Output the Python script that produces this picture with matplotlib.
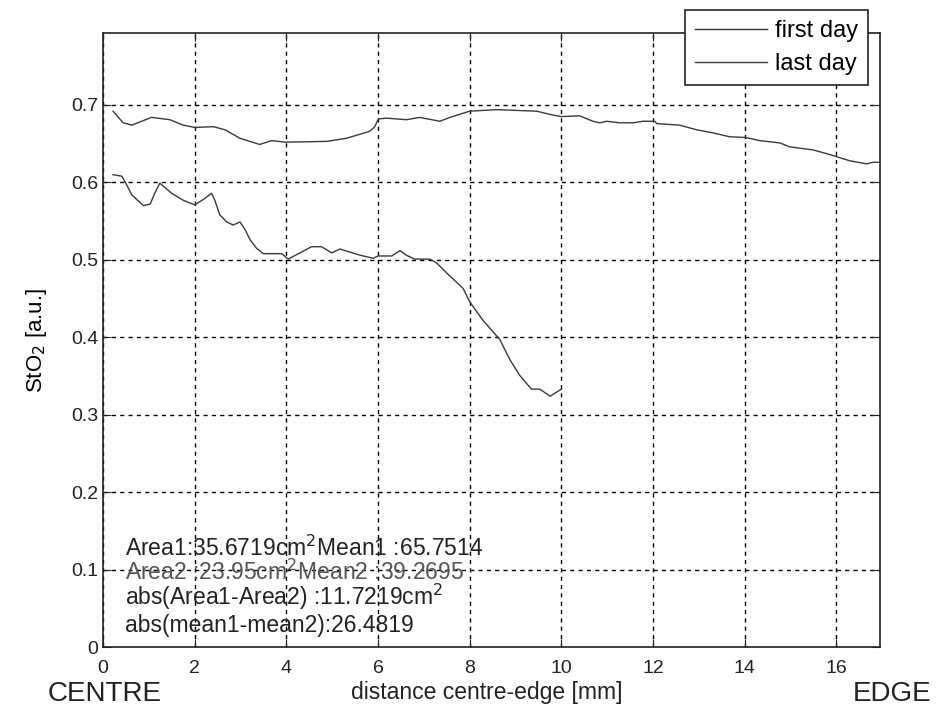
import matplotlib.pyplot as plt

plt.rcParams['font.family'] = ['Liberation Sans', 'DejaVu Sans']

# first day curve (distance mm, StO2)
first_x = [0.22, 0.44, 0.63, 1.06, 1.46, 1.75, 2.0, 2.41, 2.66, 2.99, 3.42, 3.68, 3.98,
           4.88, 5.31, 5.82, 5.93, 6.01, 6.19, 6.62, 6.91, 7.35, 7.57, 8.0, 8.59, 9.46,
           9.82, 10.0, 10.4, 10.69, 10.84, 10.99, 11.28, 11.57, 11.78, 12.04, 12.08,
           12.58, 12.95, 13.31, 13.67, 14.02, 14.33, 14.77, 14.98, 15.49, 15.86, 16.02,
           16.29, 16.66, 16.8, 16.95]
first_y = [0.692, 0.677, 0.674, 0.684, 0.681, 0.674, 0.671, 0.672, 0.668, 0.657, 0.649,
           0.654, 0.652, 0.653, 0.657, 0.666, 0.672, 0.682, 0.683, 0.681, 0.684, 0.679,
           0.684, 0.692, 0.694, 0.692, 0.687, 0.685, 0.686, 0.679, 0.677, 0.679, 0.677,
           0.677, 0.679, 0.679, 0.676, 0.674, 0.668, 0.664, 0.659, 0.658, 0.654, 0.651,
           0.646, 0.642, 0.636, 0.633, 0.628, 0.624, 0.626, 0.626]

# last day curve
last_x = [0.22, 0.41, 0.48, 0.63, 0.88, 1.03, 1.13, 1.24, 1.50, 1.75, 2.0, 2.19, 2.37,
          2.44, 2.55, 2.70, 2.84, 2.99, 3.10, 3.21, 3.35, 3.50, 3.90, 4.04, 4.30, 4.55,
          4.77, 4.99, 5.17, 5.61, 5.90, 6.0, 6.30, 6.48, 6.62, 6.80, 7.13, 7.28, 7.50,
          7.86, 8.0, 8.29, 8.66, 8.88, 9.09, 9.35, 9.53, 9.76, 10.0]
last_y = [0.610, 0.608, 0.601, 0.584, 0.570, 0.572, 0.586, 0.599, 0.586, 0.577, 0.571,
          0.578, 0.586, 0.577, 0.558, 0.549, 0.545, 0.549, 0.539, 0.526, 0.515, 0.508,
          0.508, 0.501, 0.509, 0.517, 0.517, 0.509, 0.514, 0.506, 0.502, 0.505, 0.505,
          0.512, 0.506, 0.501, 0.501, 0.496, 0.483, 0.463, 0.446, 0.422, 0.397, 0.371,
          0.351, 0.333, 0.333, 0.324, 0.333]

stats_lines = ['Area1:35.6719cm$^2$Mean1 :65.7514',
               'Area2 :23.95cm$^2$Mean2 :39.2695',
               'abs(Area1-Area2) :11.7219cm$^2$',
               'abs(mean1-mean2):26.4819']
stats_y = [0.128, 0.097, 0.065, 0.028]

fig = plt.figure(figsize=(9.36, 7.17), dpi=100)
ax = fig.add_axes([0.110, 0.0976, 0.830, 0.8564])

ax.plot(first_x, first_y, color='#3a3a3a', lw=1.0, label='first day')
ax.plot(last_x, last_y, color='#3a3a3a', lw=1.0, label='last day')

ax.set_xlim(0, 16.95)
ax.set_ylim(0, 0.793)
ax.set_xticks(range(0, 17, 2))
ax.set_yticks([0, 0.1, 0.2, 0.3, 0.4, 0.5, 0.6, 0.7])
ax.set_yticklabels(['0', '0.1', '0.2', '0.3', '0.4', '0.5', '0.6', '0.7'])
ax.grid(True, color='black', linestyle=(0, (3, 3)), lw=1.0)
ax.tick_params(direction='in', top=True, right=True, length=6, labelsize=14,
               colors='#222222')
ax.tick_params(axis='x', pad=9)
for s in ax.spines.values():
    s.set_linewidth(1.2)
    s.set_color('#222222')

ax.set_ylabel('StO$_2$ [a.u.]', fontsize=16, labelpad=16)

fig.text(487 / 936, 1 - 692 / 717, 'distance centre-edge [mm]', fontsize=16.5,
         va='center', ha='center', color='#222222')
fig.text(48 / 936, 1 - 694 / 717, 'CENTRE', fontsize=20, va='center', ha='left',
         color='#222222')
fig.text(931 / 936, 1 - 694 / 717, 'EDGE', fontsize=20, va='center', ha='right',
         color='#222222')

for i, (t, y) in enumerate(zip(stats_lines, stats_y)):
    c = '#555555' if i == 1 else '#222222'
    ax.text(0.48, y, t, fontsize=16.5, va='center', ha='left', color=c)

leg = ax.legend(loc='upper right', bbox_to_anchor=(868 / 936, 1 - 10 / 717),
                bbox_transform=fig.transFigure, fontsize=17, fancybox=False,
                framealpha=1, edgecolor='#222222', handlelength=3.05,
                handletextpad=0.35, borderaxespad=0, labelspacing=0.48,
                borderpad=0.42)
leg.get_frame().set_linewidth(1.2)

fig.savefig('out.png', dpi=100)
